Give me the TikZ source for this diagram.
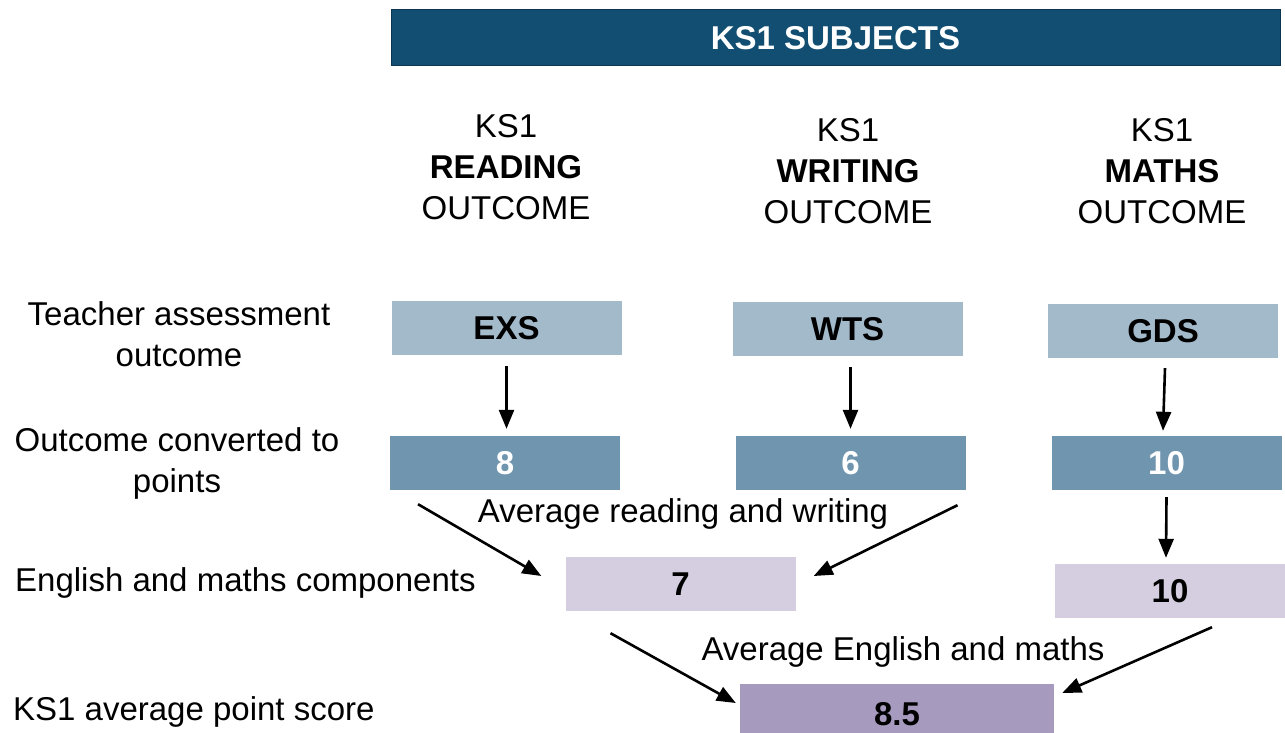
\documentclass[tikz,border=0pt]{standalone}
\usepackage{fontspec}
\setmainfont{Liberation Sans}
\usetikzlibrary{arrows.meta}
\definecolor{hdrblue}{HTML}{114E72}
\definecolor{hdrline}{HTML}{0B3550}
\definecolor{rowone}{HTML}{A3BACB}
\definecolor{rowtwo}{HTML}{7095AF}
\definecolor{rowthree}{HTML}{D4CEE0}
\definecolor{rowfour}{HTML}{A69BBE}
\tikzset{
  txt/.style={inner sep=0pt, font=\fontsize{33}{41}\selectfont, align=center},
  box/.style={inner sep=0pt, minimum width=230pt, minimum height=54pt, font=\bfseries\fontsize{33}{40}\selectfont},
  arr/.style={line width=2.6pt, -{Triangle[length=19pt,width=15pt]}},
}
\begin{document}
\begin{tikzpicture}[x=1pt,y=-1pt]
\useasboundingbox (0,0) rectangle (1285,733);
% header
\node[fill=hdrblue, draw=hdrline, line width=1pt, minimum width=889pt, minimum height=56pt, inner sep=0pt,
  text=white, font=\bfseries\fontsize{33}{38}\selectfont] (hdr) at (835.5,38) {KS1 SUBJECTS};
% column titles
\node[txt] (colr) at (506,167) {KS1\\\textbf{READING}\\OUTCOME};
\node[txt] (colw) at (848,171) {KS1\\\textbf{WRITING}\\OUTCOME};
\node[txt] (colm) at (1162,171) {KS1\\\textbf{MATHS}\\OUTCOME};
% left labels
\node[txt] (lab1) at (179,334) {Teacher assessment\\outcome};
\node[txt] (lab2) at (177,463) {Outcome converted to\\points};
\node[txt, anchor=west] (lab3) at (15,583) {English and maths components};
\node[txt, anchor=west] (lab4) at (13,712) {KS1 average point score};
% row 1
\node[box, fill=rowone] (exs) at (506.5,328) {EXS};
\node[box, fill=rowone] (wts) at (847.5,329) {WTS};
\node[box, fill=rowone] (gds) at (1163,331) {GDS};
% row 2
\node[box, fill=rowtwo, text=white] (pr) at (505,463) {8};
\node[box, fill=rowtwo, text=white] (pw) at (850.5,463) {6};
\node[box, fill=rowtwo, text=white] (pm) at (1166.5,463) {10};
% row 3
\node[box, fill=rowthree] (eng) at (680.5,584) {7};
\node[box, fill=rowthree] (mat) at (1170,591) {10};
% row 4
\node[box, fill=rowfour, minimum width=314pt, minimum height=60pt] (aps) at (897,714) {8.5};
% labels
\node[txt] (avgrw) at (683,514) {Average reading and writing};
\node[txt] (avgem) at (903,652) {Average English and maths};
% vertical arrows
\draw[arr] ([shift={(0,11)}]exs.south) -- ([shift={(0,-7)}]pr.north -| exs.south);
\draw[arr] ([shift={(3,11)}]wts.south) -- ([shift={(0,-7)}]pw.north);
\draw[arr] ([shift={(2,10)}]gds.south) -- ([shift={(0,-5)}]pm.north -| gds.south);
\draw[arr] ([shift={(0,7)}]pm.south) -- ([shift={(-4,-6)}]mat.north);
% diagonal arrows
\draw[arr] ([shift={(-87,14)}]pr.south) -- ([shift={(-24,-8)}]eng.west);
\draw[arr] ([shift={(107,15)}]pw.south) -- ([shift={(18,-8)}]eng.east);
\draw[arr] ([shift={(-70,22)}]eng.south) -- ([shift={(-4,-11)}]aps.west);
\draw[arr] ([shift={(42,9)}]mat.south) -- ([shift={(8,-21)}]aps.east);
\end{tikzpicture}
\end{document}
